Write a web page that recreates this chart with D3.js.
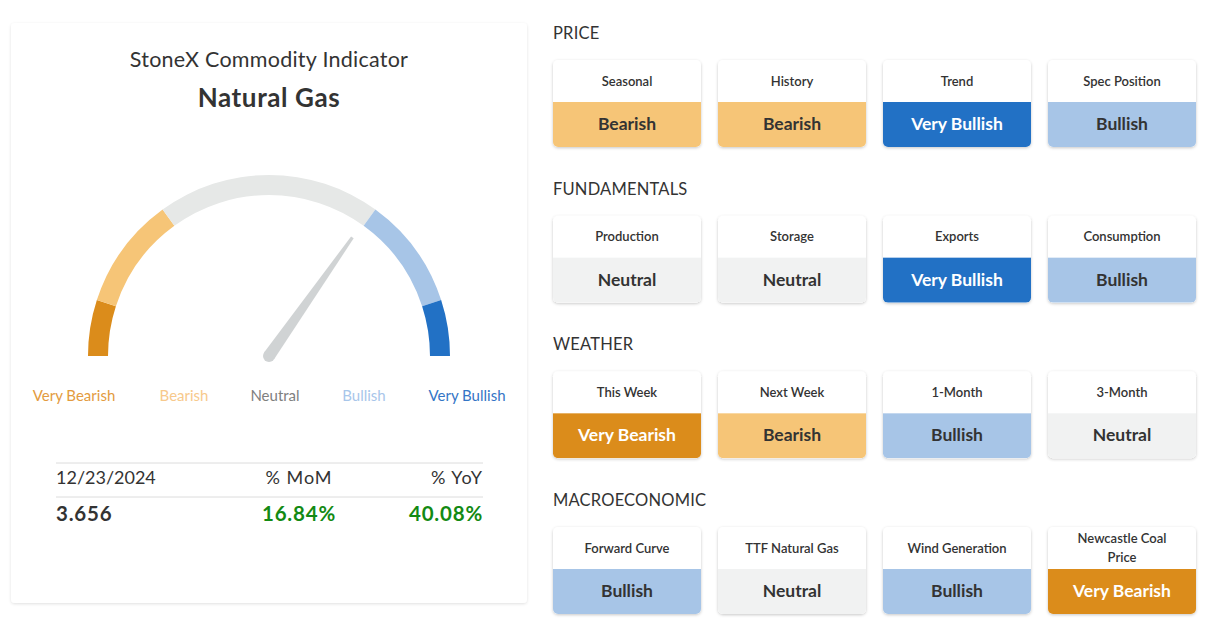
<!DOCTYPE html>
<html>
<head>
<meta charset="utf-8">
<script src="https://cdn.jsdelivr.net/npm/d3@7"></script>
<style>
  html, body { margin: 0; padding: 0; background: #ffffff; }
  svg { display: block; font-family: Lato, "Noto Sans", sans-serif; }
</style>
</head>
<body>
<svg id="chart" width="1218" height="624"></svg>
<script>
// ---------- DATA ----------
const zoneNames = ["Very Bearish", "Bearish", "Neutral", "Bullish", "Very Bullish"];
const zoneShares = [10, 20, 40, 20, 10];          // share of the gauge arc (percent)
const gaugeValue = 69.5;                           // needle position on 0..100 scale
const titleLine = "StoneX Commodity Indicator";
const commodity = "Natural Gas";
const statHeaders = ["12/23/2024", "% MoM", "% YoY"];
const lastPrice = 3.656;
const momChange = 16.84;
const yoyChange = 40.08;

const sectionNames = ["PRICE", "FUNDAMENTALS", "WEATHER", "MACROECONOMIC"];
const priceFactors = ["Seasonal", "History", "Trend", "Spec Position"];
const priceSignals = ["Bearish", "Bearish", "Very Bullish", "Bullish"];
const fundamentalFactors = ["Production", "Storage", "Exports", "Consumption"];
const fundamentalSignals = ["Neutral", "Neutral", "Very Bullish", "Bullish"];
const weatherFactors = ["This Week", "Next Week", "1-Month", "3-Month"];
const weatherSignals = ["Very Bearish", "Bearish", "Bullish", "Neutral"];
const macroFactors = ["Forward Curve", "TTF Natural Gas", "Wind Generation", "Newcastle Coal Price"];
const macroSignals = ["Bullish", "Neutral", "Bullish", "Very Bearish"];

// ---------- STYLE ----------
const zoneFill = d3.scaleOrdinal().domain(zoneNames)
  .range(["#db8c1b", "#f6c577", "#e6e8e7", "#a7c5e7", "#2271c5"]);
const zoneLabelColor = d3.scaleOrdinal().domain(zoneNames)
  .range(["#e39b3e", "#f7c98c", "#7f7f7f", "#a8c6ea", "#3475c6"]);
const cardFill = d3.scaleOrdinal().domain(zoneNames)
  .range(["#db8c1b", "#f6c577", "#f1f2f2", "#a7c5e7", "#2271c5"]);
const cardText = d3.scaleOrdinal().domain(zoneNames)
  .range(["#ffffff", "#333333", "#333333", "#333333", "#ffffff"]);
const textDark = "#333333";

const svg = d3.select("#chart");
const defs = svg.append("defs");
const shadow = defs.append("filter").attr("id", "shadow")
  .attr("x", "-10%").attr("y", "-10%").attr("width", "120%").attr("height", "130%");
shadow.append("feDropShadow").attr("dx", 0).attr("dy", 1).attr("stdDeviation", 1.6)
  .attr("flood-color", "#000").attr("flood-opacity", 0.22);
const shadowSoft = defs.append("filter").attr("id", "shadowSoft")
  .attr("x", "-5%").attr("y", "-5%").attr("width", "110%").attr("height", "110%");
shadowSoft.append("feDropShadow").attr("dx", 0).attr("dy", 1).attr("stdDeviation", 1.5)
  .attr("flood-color", "#000").attr("flood-opacity", 0.12);

// ---------- LEFT PANEL ----------
const panel = { x: 11, y: 23, w: 516, h: 580 };
svg.append("rect")
  .attr("x", panel.x).attr("y", panel.y).attr("width", panel.w).attr("height", panel.h)
  .attr("rx", 4).attr("fill", "#fff").attr("filter", "url(#shadowSoft)");

const cx = 269, cy = 356;
svg.append("text").attr("x", cx).attr("y", 67).attr("text-anchor", "middle")
  .attr("font-size", 21.5).attr("letter-spacing", 0.25).attr("fill", textDark).text(titleLine);
svg.append("text").attr("x", cx).attr("y", 107).attr("text-anchor", "middle")
  .attr("font-size", 26).attr("letter-spacing", 0.6).attr("font-weight", 700)
  .attr("fill", textDark).text(commodity);

// gauge
const angle = d3.scaleLinear().domain([0, 100]).range([-Math.PI / 2, Math.PI / 2]);
const outerR = 181, innerR = 161;
const arc = d3.arc().innerRadius(innerR).outerRadius(outerR);
const cum = d3.cumsum(zoneShares);
const zones = zoneNames.map((n, i) => ({ name: n, start: i ? cum[i - 1] : 0, end: cum[i] }));
const g = svg.append("g").attr("transform", `translate(${cx},${cy})`);
g.selectAll("path.zone").data(zones).join("path")
  .attr("class", "zone")
  .attr("d", d => arc({ startAngle: angle(d.start), endAngle: angle(d.end) }))
  .attr("fill", d => zoneFill(d.name));

// needle
const needleLen = 145, baseR = 6, tipHalf = 1.6;
const a = angle(gaugeValue); // 0 = up, clockwise
const dir = [Math.sin(a), -Math.cos(a)];
const perp = [-dir[1], dir[0]];
const tip = [dir[0] * needleLen, dir[1] * needleLen];
const needlePath = d3.path();
needlePath.moveTo(perp[0] * baseR, perp[1] * baseR);
needlePath.lineTo(tip[0] + perp[0] * tipHalf, tip[1] + perp[1] * tipHalf);
needlePath.lineTo(tip[0] - perp[0] * tipHalf, tip[1] - perp[1] * tipHalf);
needlePath.lineTo(-perp[0] * baseR, -perp[1] * baseR);
needlePath.closePath();
g.append("path").attr("d", needlePath.toString()).attr("fill", "#d0d3d4");
g.append("circle").attr("r", baseR).attr("fill", "#d0d3d4");

// zone labels
const labelPos = { "Very Bearish": 74, "Bearish": 184, "Neutral": 275, "Bullish": 364, "Very Bullish": 467 };
svg.selectAll("text.zlabel").data(zoneNames).join("text")
  .attr("class", "zlabel")
  .attr("x", d => labelPos[d])
  .attr("y", 401).attr("text-anchor", "middle").attr("font-size", 15)
  .attr("fill", d => zoneLabelColor(d)).text(d => d);

// stats table
const anchors = ["start", "middle", "end"];
const colX = [56, 299, 483];
[463, 497].forEach(y => svg.append("line").attr("x1", 56).attr("x2", 483)
  .attr("y1", y).attr("y2", y).attr("stroke", "#dcdcdc").attr("stroke-width", 1));
svg.selectAll("text.sh").data(statHeaders).join("text").attr("class", "sh")
  .attr("x", (d, i) => colX[i]).attr("y", 484).attr("text-anchor", (d, i) => anchors[i])
  .attr("font-size", 18)
  .attr("letter-spacing", (d, i) => i ? 1 : 0)
  .attr("fill", textDark).text(d => d);
const statValues = [
  { t: d3.format(".3f")(lastPrice), c: textDark },
  { t: d3.format(".2f")(momChange) + "%", c: momChange >= 0 ? "#138a13" : "#c62828" },
  { t: d3.format(".2f")(yoyChange) + "%", c: yoyChange >= 0 ? "#138a13" : "#c62828" }
];
svg.selectAll("text.sv").data(statValues).join("text").attr("class", "sv")
  .attr("x", (d, i) => colX[i]).attr("y", 521).attr("text-anchor", (d, i) => anchors[i])
  .attr("font-size", 20.5).attr("letter-spacing", 0.8).attr("font-weight", 700)
  .attr("fill", d => d.c).text(d => d.t);

// ---------- RIGHT: FACTOR CARDS ----------
const sections = [
  { name: sectionNames[0], factors: priceFactors, signals: priceSignals },
  { name: sectionNames[1], factors: fundamentalFactors, signals: fundamentalSignals },
  { name: sectionNames[2], factors: weatherFactors, signals: weatherSignals },
  { name: sectionNames[3], factors: macroFactors, signals: macroSignals }
];
const col = d3.scaleBand().domain([0, 1, 2, 3]).range([553, 1196]).paddingInner(17 / 165).paddingOuter(0);
const row = d3.scaleLinear().domain([0, 3]).range([60, 527]);
const cardH = 87, headH = 42, rr = 5;
const cw = col.bandwidth();

sections.forEach((s, si) => {
  const top = row(si);
  svg.append("text").attr("x", 553).attr("y", top - 21)
    .attr("font-size", 16.5).attr("letter-spacing", 0.2).attr("fill", textDark).text(s.name);
  s.factors.forEach((f, fi) => {
    const x = col(fi);
    const id = `clip-${si}-${fi}`;
    defs.append("clipPath").attr("id", id).append("rect")
      .attr("x", x).attr("y", top).attr("width", cw).attr("height", cardH).attr("rx", rr);
    const cg = svg.append("g");
    cg.append("rect").attr("x", x).attr("y", top).attr("width", cw).attr("height", cardH)
      .attr("rx", rr).attr("fill", "#fff").attr("filter", "url(#shadow)");
    const sig = s.signals[fi];
    cg.append("rect").attr("x", x).attr("y", top + headH).attr("width", cw).attr("height", cardH - headH)
      .attr("fill", cardFill(sig)).attr("clip-path", `url(#${id})`);
    // header label with wrapping
    const lbl = cg.append("text").attr("x", x + cw / 2).attr("text-anchor", "middle")
      .attr("font-size", 13).attr("font-weight", 600).attr("fill", textDark);
    let lines = [f];
    if (f.length > 16) {
      const words = f.split(" ");
      lines = [words.slice(0, -1).join(" "), words[words.length - 1]];
    }
    const lh = 19;
    const midY = top + headH / 2;
    lines.forEach((ln, li) => {
      lbl.append("tspan").attr("x", x + cw / 2)
        .attr("y", midY + (li - (lines.length - 1) / 2) * lh + 4.5).text(ln);
    });
    cg.append("text").attr("x", x + cw / 2).attr("y", top + headH + (cardH - headH) / 2 + 5.5)
      .attr("text-anchor", "middle").attr("font-size", 17.5).attr("font-weight", 700)
      .attr("fill", cardText(sig)).text(sig);
  });
});
</script>
</body>
</html>
